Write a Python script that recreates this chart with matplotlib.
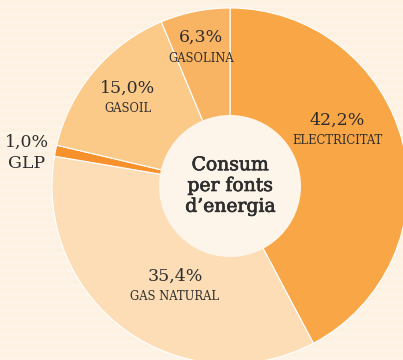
import matplotlib
matplotlib.use("Agg")
from matplotlib import pyplot as plt
from matplotlib.patches import Circle
import matplotlib.patheffects as pe

# consum per fonts d'energia (%)
fonts = ['ELECTRICITAT', 'GAS NATURAL', 'GLP', 'GASOIL', 'GASOLINA']
valors = [42.2, 35.4, 1.0, 15.0, 6.3]
etiquetes = ['42,2%', '35,4%', '1,0%', '15,0%', '6,3%']
colors = ['#F9A646', '#FCDDB6', '#F7912C', '#FBCA89', '#F9B463']

W, H = 403, 360
fig = plt.figure(figsize=(W / 100, H / 100), dpi=100)
fig.patch.set_facecolor('#FDF1E1')
ax = fig.add_axes([0, 0, 1, 1])
ax.set_facecolor('#FDF1E1')

# fons amb ratlles molt suaus
for y in range(0, H, 8):
    ax.axhspan(y, y + 4, color='#FDF3E6', lw=0, zorder=0)

cx, cy, R = 230, H - 186, 178
ax.pie(valors, colors=colors, startangle=90, counterclock=False,
       center=(cx, cy), radius=R,
       wedgeprops=dict(edgecolor='white', linewidth=0.8), frame=True)
ax.add_patch(Circle((cx, cy), 71, facecolor='#FEF5EA', edgecolor='none', zorder=5))

text_color = '#2E2E2E'
serif = ['DejaVu Serif']
# posicions de les etiquetes (px)
pos = {'ELECTRICITAT': (337, 120), 'GAS NATURAL': (175, 276), 'GLP': (27, 142),
       'GASOIL': (128, 88), 'GASOLINA': (201, 37)}
for nom, et in zip(fonts, etiquetes):
    x, y = pos[nom]
    ax.text(x, H - y, et, ha='center', va='center', fontsize=12.5,
            family=serif, color=text_color, zorder=6)
    mida = 12.5 if nom == 'GLP' else 8.3
    ax.text(x, H - y - 21, nom, ha='center', va='center', fontsize=mida,
            family=serif, color=text_color, zorder=6)

ax.text(cx, H - 186, 'Consum\nper fonts\nd\u2019energia', ha='center', va='center',
        fontsize=13.5, family=serif, color=text_color, linespacing=1.2, zorder=6,
        path_effects=[pe.withStroke(linewidth=0.5, foreground=text_color)])

ax.set_xlim(0, W)
ax.set_ylim(0, H)
ax.set_aspect('auto')
ax.axis('off')

fig.savefig('out.png', dpi=100, facecolor=fig.get_facecolor())
